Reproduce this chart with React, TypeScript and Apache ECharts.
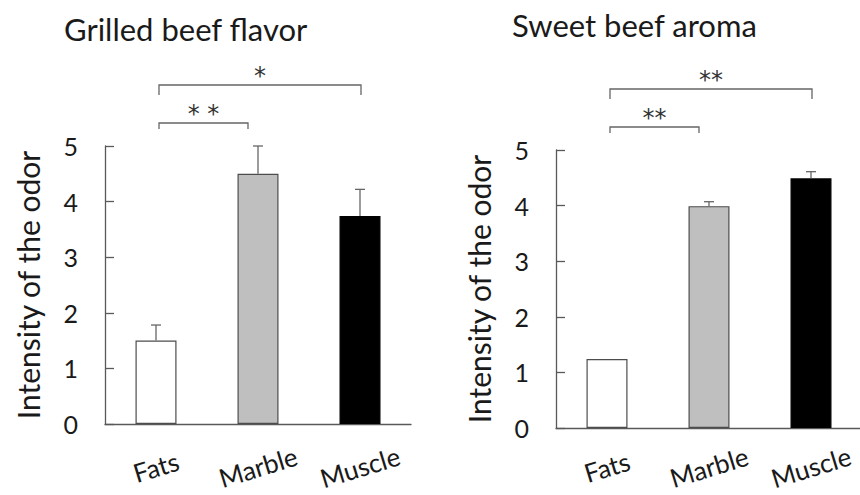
import React, { useEffect, useRef } from 'react';
import * as echarts from 'echarts';

const categories = ['Fats', 'Marble', 'Muscle'];
const grilledMeans = [1.5, 4.5, 3.74];
const grilledErrors = [0.28, 0.5, 0.48];
const sweetMeans = [1.24, 3.99, 4.49];
const sweetErrors = [0, 0.08, 0.12];
const yTickMin = 0;
const yTickMax = 5;
const yTickStep = 1;
const grilledTitle = 'Grilled beef flavor';
const sweetTitle = 'Sweet beef aroma';
const yName = 'Intensity of the odor';
// significance comparisons: from category index, to category index, label
const grilledSigFrom = [0, 0];
const grilledSigTo = [2, 1];
const grilledSigLabel = ['*', '* *'];
const sweetSigFrom = [0, 0];
const sweetSigTo = [2, 1];
const sweetSigLabel = ['**', '**'];

// styling only
const barFills = ['#ffffff', '#bfbfbf', '#000000'];
const FONT = 'Lato, "Open Sans", sans-serif';
const TEXT = '#1a1a1a';
const AXIS = '#595959';

function buildBars(means: number[]) {
  return means.map((v, i) => ({
    value: v,
    itemStyle: {
      color: barFills[i],
      borderColor: i === 2 ? '#000000' : '#4d4d4d',
      borderWidth: 1.2,
    },
  }));
}

function errorRender(params: any, api: any) {
  const i = api.value(0);
  const m = api.value(1);
  const e = api.value(2);
  if (!e) return { type: 'group', children: [] };
  const base = api.coord([i, m]);
  const top = api.coord([i, m + e]);
  const half = 5;
  const style = { stroke: '#666666', lineWidth: 1.3 };
  return {
    type: 'group',
    children: [
      { type: 'line', shape: { x1: base[0], y1: base[1], x2: top[0], y2: top[1] }, style },
      { type: 'line', shape: { x1: top[0] - half, y1: top[1], x2: top[0] + half, y2: top[1] }, style },
    ],
  };
}

function sigRender(labels: string[]) {
  return (params: any, api: any) => {
    const idx = params.dataIndex;
    const from = api.value(0);
    const to = api.value(1);
    const p0 = api.coord([from, yTickMax]);
    const p1 = api.coord([to, yTickMax]);
    const upper = idx === 0;
    const y = p0[1] - (upper ? 61 : 23);
    const drop = upper ? 10 : 6;
    const x0 = p0[0] + 3;
    const x1 = upper ? p1[0] + 1 : p1[0] - 10;
    const style = { stroke: '#666666', lineWidth: 1.3, fill: 'none' };
    return {
      type: 'group',
      children: [
        {
          type: 'polyline',
          shape: { points: [[x0, y + drop], [x0, y], [x1, y], [x1, y + drop]] },
          style,
        },
        {
          type: 'text',
          x: (x0 + x1) / 2,
          y: y - 9,
          style: {
            text: labels[idx],
            fill: '#333333',
            font: '24px "DejaVu Sans", sans-serif',
            align: 'center',
            verticalAlign: 'middle',
          },
        },
      ],
    };
  };
}

function xAxisFor(gridIndex: number, margin: number) {
  return {
    type: 'category',
    gridIndex,
    data: categories,
    axisTick: { show: false },
    axisLine: { lineStyle: { color: AXIS, width: 1.3 } },
    splitLine: { show: false },
    axisLabel: {
      rotate: 17,
      align: 'center',
      verticalAlign: 'middle',
      margin,
      fontSize: 26,
      fontFamily: FONT,
      color: TEXT,
      interval: 0,
      hideOverlap: false,
    },
  };
}

export default function App() {
  const ref = useRef<HTMLDivElement>(null);
  useEffect(() => {
    if (!ref.current) return;
    const chart = echarts.init(ref.current, null, { renderer: 'svg' });

    const yAxisCommon = {
      type: 'value',
      min: yTickMin,
      max: yTickMax,
      interval: yTickStep,
      name: yName,
      nameLocation: 'middle',
      nameGap: 62,
      nameTextStyle: { fontSize: 30, fontFamily: FONT, color: TEXT },
      axisLine: { show: true, lineStyle: { color: AXIS, width: 1.3 } },
      axisTick: { show: true, inside: true, length: 9, lineStyle: { color: AXIS, width: 1.3 } },
      splitLine: { show: false },
      axisLabel: { fontSize: 25, fontFamily: FONT, color: TEXT, margin: 27 },
    };

    chart.setOption({
      animation: false,
      backgroundColor: '#ffffff',
      title: [
        {
          text: grilledTitle,
          left: 64,
          top: 13,
          padding: 0,
          textStyle: { fontSize: 31, fontWeight: 'normal', fontFamily: FONT, color: TEXT },
        },
        {
          text: sweetTitle,
          left: 512,
          top: 9,
          padding: 0,
          textStyle: { fontSize: 31, fontWeight: 'normal', fontFamily: FONT, color: TEXT },
        },
      ],
      grid: [
        { left: 105, top: 146, width: 306, height: 278, outerBoundsMode: 'none', containLabel: false },
        { left: 556, top: 150, width: 306, height: 278, outerBoundsMode: 'none', containLabel: false },
      ],
      xAxis: [xAxisFor(0, 43), xAxisFor(1, 39)],
      yAxis: [
        { ...yAxisCommon, gridIndex: 0 },
        { ...yAxisCommon, gridIndex: 1 },
      ],
      series: [
        {
          type: 'bar',
          xAxisIndex: 0,
          yAxisIndex: 0,
          barWidth: 41,
          data: buildBars(grilledMeans),
        },
        {
          type: 'bar',
          xAxisIndex: 1,
          yAxisIndex: 1,
          barWidth: 41,
          data: buildBars(sweetMeans),
        },
        {
          type: 'custom',
          xAxisIndex: 0,
          yAxisIndex: 0,
          renderItem: errorRender,
          data: grilledMeans.map((m, i) => [i, m, grilledErrors[i]]),
          z: 3,
        },
        {
          type: 'custom',
          xAxisIndex: 1,
          yAxisIndex: 1,
          renderItem: errorRender,
          data: sweetMeans.map((m, i) => [i, m, sweetErrors[i]]),
          z: 3,
        },
        {
          type: 'custom',
          xAxisIndex: 0,
          yAxisIndex: 0,
          clip: false,
          renderItem: sigRender(grilledSigLabel),
          data: grilledSigFrom.map((f, i) => [f, grilledSigTo[i]]),
        },
        {
          type: 'custom',
          xAxisIndex: 1,
          yAxisIndex: 1,
          clip: false,
          renderItem: sigRender(sweetSigLabel),
          data: sweetSigFrom.map((f, i) => [f, sweetSigTo[i]]),
        },
      ],
    });
    return () => chart.dispose();
  }, []);

  return (
    <div
      ref={ref}
      style={{ position: 'fixed', left: 0, top: 0, width: 860, height: 495, background: '#fff' }}
    />
  );
}
